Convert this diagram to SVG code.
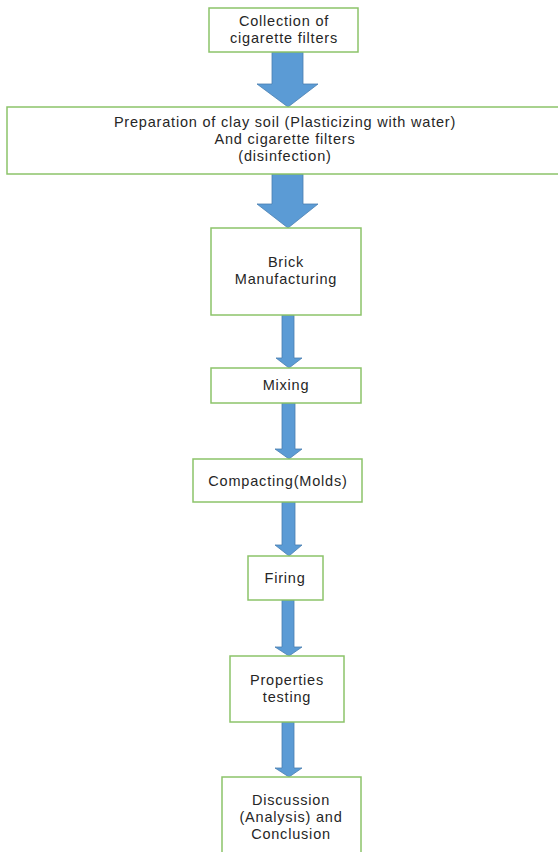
<svg xmlns="http://www.w3.org/2000/svg" width="558" height="852" viewBox="0 0 558 852">
<style>
.box{fill:#ffffff;stroke:#8cc36a;stroke-width:1.5}
.arr{fill:#5b9bd5;stroke:#4a7fb0;stroke-width:0.8}
text{font-family:"Liberation Sans","Open Sans",sans-serif;font-size:14.5px;letter-spacing:0.8px;fill:#262626;text-anchor:middle}
</style>
<rect width="558" height="852" fill="#ffffff"/>
<g id="connectors">
<path class="arr" d="M272,52 H303 V84 H318 L288,107 L257,84 H272 Z"/>
<path class="arr" d="M272,174 H303 V204 H318 L288,228 L257,204 H272 Z"/>
<path class="arr" d="M282,315 H294 V358 H302 L289,368 L276,358 H282 Z"/>
<path class="arr" d="M282,403 H295 V449 H302 L289,459 L275,449 H282 Z"/>
<path class="arr" d="M282,502 H295 V545 H302 L289,556 L275,545 H282 Z"/>
<path class="arr" d="M282,600 H294 V647 H302 L289,656 L275,647 H282 Z"/>
<path class="arr" d="M282,722 H294 V768 H302 L289,777 L275,768 H282 Z"/>
</g>
<g id="n1"><rect class="box" x="209" y="8" width="149" height="44"/><text x="284" y="26">Collection of</text><text x="284" y="43">cigarette filters</text></g>
<g id="n2"><rect class="box" x="7" y="107" width="556" height="67"/><text x="285" y="127">Preparation of clay soil (Plasticizing with water)</text><text x="285" y="144">And cigarette filters</text><text x="285" y="161">(disinfection)</text></g>
<g id="n3"><rect class="box" x="211" y="228" width="150" height="87"/><text x="286" y="267">Brick</text><text x="286" y="284">Manufacturing</text></g>
<g id="n4"><rect class="box" x="211" y="368" width="150" height="35"/><text x="286" y="390">Mixing</text></g>
<g id="n5"><rect class="box" x="193" y="459" width="169" height="43"/><text x="278" y="486">Compacting(Molds)</text></g>
<g id="n6"><rect class="box" x="248" y="556" width="75" height="44"/><text x="285" y="583">Firing</text></g>
<g id="n7"><rect class="box" x="230" y="656" width="114" height="66"/><text x="287" y="685">Properties</text><text x="287" y="702">testing</text></g>
<g id="n8"><rect class="box" x="222" y="777" width="139" height="80"/><text x="291" y="805">Discussion</text><text x="291" y="822">(Analysis) and</text><text x="291" y="839">Conclusion</text></g>
</svg>
